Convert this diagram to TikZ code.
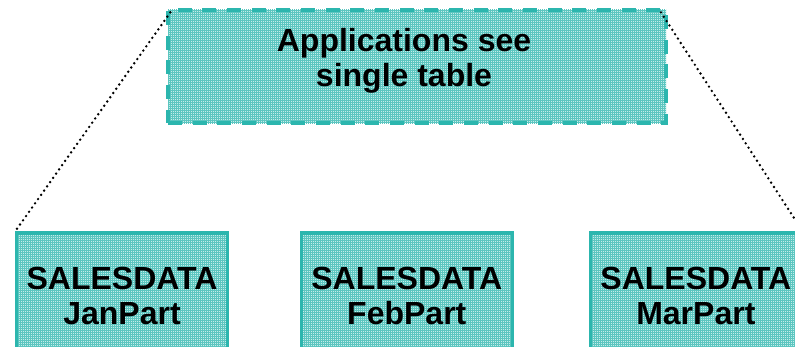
\documentclass[tikz,border=0pt]{standalone}
\usepackage{fontspec}
\setmainfont{Liberation Sans}
\usepackage{tikz}
\usetikzlibrary{positioning}
\usetikzlibrary{patterns.meta}
\definecolor{tealline}{RGB}{44,182,174}
\definecolor{tealfill}{RGB}{196,236,233}
\definecolor{tealgrid}{RGB}{92,198,192}
\tikzstyle{part}=[draw=tealline, line width=2.3pt, preaction={fill=tealfill},
  pattern={Hatch[angle=0,distance=1.5pt,line width=0.45pt]}, pattern color=tealgrid,
  minimum width=158pt, minimum height=94.5pt, inner sep=0pt,
  align=center, font=\bfseries\fontsize{24}{26}\selectfont]
\tikzstyle{view}=[part, dash pattern=on 10.5pt off 8pt, minimum width=373.5pt, minimum height=84.75pt]
\tikzstyle{link}=[black, line width=2pt, dash pattern=on 0pt off 3.9pt, line cap=round]

\begin{document}
\begin{tikzpicture}[x=0.75pt, y=-0.75pt]
            \useasboundingbox (0,0) rectangle (795,346);
            \clip (0,0) rectangle (795,346);

            \node[view] (apps) at (417,66.5) {};
            \node[font=\bfseries\fontsize{24}{26}\selectfont, align=center] (appstext) at (404,61) {Applications see\\single table};

            \node[part] (jan) at (122,296) {SALESDATA\\JanPart};
            \node[part, right=53.3pt of jan] (feb) {SALESDATA\\FebPart};
            \node[part, right=56.5pt of feb] (mar) {SALESDATA\\MarPart};

            \draw[link] ([shift={(2pt,-2pt)}]apps.north west) -- (jan.north west);
            \draw[link] ([shift={(-4pt,-2pt)}]apps.north east) -- (mar.north east);
        \end{tikzpicture}
\end{document}
